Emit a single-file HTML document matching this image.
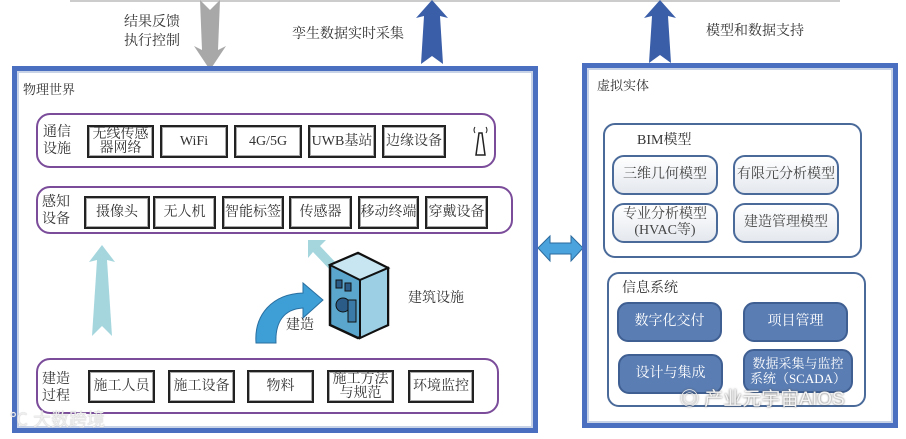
<!DOCTYPE html>
<html><head><meta charset="utf-8"><style>
*{margin:0;padding:0;box-sizing:border-box}
body{width:906px;height:439px;background:#fff;position:relative;overflow:hidden;font-family:"Liberation Serif","Noto Serif CJK SC",serif;color:#333}
.a{position:absolute}
.t{position:absolute;font-size:13px;line-height:15px;white-space:nowrap}
.outer{position:absolute;border:5px solid #4a6fc1;box-shadow:inset 0 0 0 2px #c9d3e8}
.row{position:absolute;border:2px solid #7a4c9a;border-radius:14px}
.it{position:absolute;border:2.5px solid #222;box-shadow:inset 0 0 0 1px #aaa;display:flex;align-items:center;justify-content:center;text-align:center;font-size:14px;line-height:14px;color:#333}
.rb{position:absolute;border:2px solid #4a6a9a;border-radius:12px}
.sb{position:absolute;border:2px solid #4a6a9a;border-radius:12px;background:linear-gradient(#fff,#e4e8ee);display:flex;align-items:center;justify-content:center;text-align:center;font-size:14px;line-height:16px;color:#444}
.db{position:absolute;border:2px solid #3f5f92;border-radius:11px;background:#5a7db3;display:flex;align-items:center;justify-content:center;text-align:center;font-size:14px;line-height:16px;color:#fff}
</style></head><body>
<div class="a" style="left:70px;top:0;width:770px;height:2px;background:#ccc"></div>
<svg class="a" style="left:0;top:0" width="906" height="439">
<polygon points="200,0 210,10 220,0 218,50 226,46 210,70 194,46 202,50" fill="#a8a8a8"/>
<polygon points="432,0 448,18 440,16 443,64 432,56 421,64 424,16 416,18" fill="#3a5ea8"/>
<polygon points="660,0 676,18 668,16 671,63 660,55 649,63 652,16 644,18" fill="#3a5ea8"/>
<polygon points="102,245 115,262 107,260 112,336 102,326 92,336 97,260 89,262" fill="#a5d6de"/>
<polygon points="308,240 326,240 320,246 338,265 332,272 313,252 308,258" fill="#a5d6de"/>
<path d="M256,343 C254,315 272,294 303,293 L303,283 L323,300 L303,318 L303,308 C284,309 275,322 276,343 Z" fill="#3d9fd6" stroke="#2a6fa0" stroke-width="1"/>
<polygon points="330,265 358,253 388,268 388,325 358,338 330,325" fill="#5aa6cc" stroke="#111" stroke-width="2.5"/>
<polygon points="330,265 358,253 388,268 360,280" fill="#c8e6f2" stroke="#111" stroke-width="2"/>
<polygon points="360,280 388,268 388,325 360,338" fill="#9ccfe4" stroke="#111" stroke-width="2"/>
<rect x="336" y="280" width="6" height="8" fill="#2b5c88" stroke="#111"/>
<rect x="345" y="283" width="6" height="8" fill="#2b5c88" stroke="#111"/>
<circle cx="343" cy="305" r="7" fill="#2b5c88" stroke="#111"/>
<rect x="348" y="300" width="8" height="22" fill="#3a7aa8" stroke="#111"/>
<polygon points="538,248 550,236 550,243 571,243 571,236 583,248 571,261 571,254 550,254 550,261" fill="#4aa3dc" stroke="#2a6a9e" stroke-width="1"/>
<path d="M476,155 L479,133 L482,133 L485,155 Z" fill="#fff" stroke="#222" stroke-width="1.5"/>
<path d="M475,127 q-2,3 0,6 M486,127 q2,3 0,6" stroke="#222" fill="none"/>
</svg>

<div class="outer" style="left:12px;top:66px;width:526px;height:367px"></div>
<div class="t" style="left:23px;top:82px">物理世界</div>
<div class="t" style="left:124px;top:13px;font-size:14px;line-height:19px">结果反馈<br>执行控制</div>
<div class="t" style="left:292px;top:27px;font-size:14px">孪生数据实时采集</div>
<div class="t" style="left:706px;top:24px;font-size:14px">模型和数据支持</div>

<div class="row" style="left:36px;top:113px;width:460px;height:55px"></div>
<div class="t" style="left:43px;top:124px;font-size:14px;line-height:17px">通信<br>设施</div>
<div class="it" style="left:87px;top:125px;width:67px;height:33px">无线传感<br>器网络</div>
<div class="it" style="left:160px;top:125px;width:68px;height:33px">WiFi</div>
<div class="it" style="left:234px;top:125px;width:68px;height:33px">4G/5G</div>
<div class="it" style="left:308px;top:125px;width:68px;height:33px">UWB基站</div>
<div class="it" style="left:382px;top:125px;width:64px;height:33px">边缘设备</div>

<div class="row" style="left:36px;top:186px;width:477px;height:48px"></div>
<div class="t" style="left:42px;top:194px;font-size:14px;line-height:17px">感知<br>设备</div>
<div class="it" style="left:84px;top:196px;width:66px;height:33px">摄像头</div>
<div class="it" style="left:153px;top:196px;width:63px;height:33px">无人机</div>
<div class="it" style="left:222px;top:196px;width:62px;height:33px">智能标签</div>
<div class="it" style="left:289px;top:196px;width:63px;height:33px">传感器</div>
<div class="it" style="left:358px;top:196px;width:61px;height:33px">移动终端</div>
<div class="it" style="left:425px;top:196px;width:63px;height:33px">穿戴设备</div>

<div class="t" style="left:408px;top:291px;font-size:14px">建筑设施</div>
<div class="t" style="left:286px;top:318px;font-size:14px">建造</div>

<div class="row" style="left:36px;top:358px;width:463px;height:56px"></div>
<div class="t" style="left:42px;top:371px;font-size:14px;line-height:17px">建造<br>过程</div>
<div class="it" style="left:88px;top:370px;width:67px;height:33px">施工人员</div>
<div class="it" style="left:168px;top:370px;width:67px;height:33px">施工设备</div>
<div class="it" style="left:247px;top:370px;width:67px;height:33px">物料</div>
<div class="it" style="left:327px;top:370px;width:67px;height:33px">施工方法<br>与规范</div>
<div class="it" style="left:408px;top:370px;width:66px;height:33px">环境监控</div>
<div class="t" style="left:10px;top:410px;font-size:18px;line-height:20px;color:#eee;font-family:'Liberation Sans','Noto Sans CJK SC',sans-serif;text-shadow:0 0 1px #aaa">℃ 大数跨境</div>

<div class="outer" style="left:582px;top:63px;width:316px;height:365px"></div>
<div class="t" style="left:597px;top:78px">虚拟实体</div>
<div class="rb" style="left:603px;top:123px;width:259px;height:135px"></div>
<div class="t" style="left:637px;top:133px;font-size:14px">BIM模型</div>
<div class="sb" style="left:612px;top:155px;width:106px;height:40px">三维几何模型</div>
<div class="sb" style="left:733px;top:155px;width:106px;height:40px">有限元分析模型</div>
<div class="sb" style="left:612px;top:203px;width:106px;height:40px">专业分析模型<br>(HVAC等)</div>
<div class="sb" style="left:733px;top:203px;width:106px;height:40px">建造管理模型</div>

<div class="rb" style="left:607px;top:272px;width:259px;height:135px"></div>
<div class="t" style="left:622px;top:281px;font-size:14px">信息系统</div>
<div class="db" style="left:617px;top:302px;width:105px;height:40px">数字化交付</div>
<div class="db" style="left:743px;top:302px;width:105px;height:40px">项目管理</div>
<div class="db" style="left:618px;top:354px;width:105px;height:40px">设计与集成</div>
<div class="db" style="left:743px;top:349px;width:110px;height:44px;font-size:13px;line-height:15px">数据采集与监控<br>系统（SCADA）</div>
<div class="t" style="left:680px;top:389px;font-size:19px;line-height:22px;color:#f4f4f4;font-family:'Liberation Sans','Noto Sans CJK SC',sans-serif;text-shadow:0 0 2px #555">◎ 产业元宇宙AIOS</div>
</body></html>
